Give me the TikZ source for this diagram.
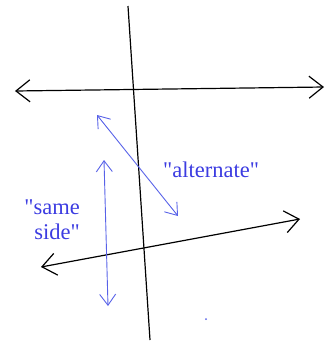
\documentclass[tikz,border=0pt]{standalone}
\usepackage{fontspec}
\setmainfont{Liberation Serif}
\usetikzlibrary{arrows.meta}
\definecolor{penblue}{RGB}{88, 98, 232}
\definecolor{inkblue}{RGB}{60, 60, 225}
\newcommand{\qq}{\textquotedbl}

\begin{document}
\begin{tikzpicture}[
    x=1pt, y=-1pt,
    line/.style={line width=1.2pt, black,
                 {Straight Barb[length=14pt, width=22pt]}-{Straight Barb[length=14pt, width=22pt]}},
    pair/.style={line width=0.9pt, penblue,
                 {Straight Barb[length=11pt, width=16pt]}-{Straight Barb[length=11pt, width=16pt]}},
    word/.style={text=inkblue, font=\fontsize{22.5}{25}\selectfont, inner sep=0pt},
  ]
    \useasboundingbox (0,0) rectangle (328,341);

    % end points of the lines
    \coordinate (topL) at (15,91);
    \coordinate (topR) at (324,87);
    \coordinate (botL) at (41,267);
    \coordinate (botR) at (300,219);
    \coordinate (cutT) at (128,6);
    \coordinate (cutB) at (150,340);

    % parallel lines and transversal
    \draw[line] (topL) -- (topR);
    \draw[line] (botL) -- (botR);
    \draw[line width=1.2pt] (cutT) -- (cutB);

    % angle pairs
    \coordinate (altA) at (97,115);
    \coordinate (altB) at (178,216);
    \coordinate (sameA) at (104,160);
    \coordinate (sameB) at (108,306);
    \draw[pair] (altA) -- (altB);
    \draw[pair] (sameA) -- (sameB);

    % labels
    \node[word, anchor=base west] (alt) at (163,177) {\qq alternate\qq};
    \node[word, anchor=base east, align=right] (same) at (80,239) {\qq same\\side\qq};
    \fill[penblue] (206,319) circle (1pt);
  \end{tikzpicture}
\end{document}
